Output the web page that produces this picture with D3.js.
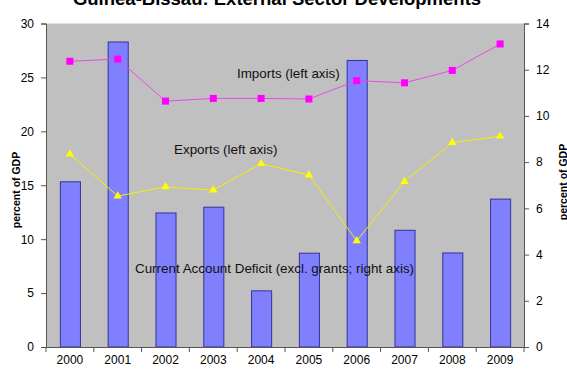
<!DOCTYPE html>
<html>
<head>
<meta charset="utf-8">
<script src="https://cdn.jsdelivr.net/npm/d3@7"></script>
<style>
  html, body { margin: 0; padding: 0; background: #fff; }
  svg { display: block; font-family: Arial, "Liberation Sans", sans-serif; }
</style>
</head>
<body>
<svg id="chart" width="567" height="370"></svg>
<script>
// Guinea-Bissau external sector, percent of GDP
const years = ["2000","2001","2002","2003","2004","2005","2006","2007","2008","2009"];
const deficit = [7.15, 13.2, 5.8, 6.05, 2.43, 4.06, 12.4, 5.05, 4.07, 6.4];   // right axis
const imports = [26.5, 26.7, 22.8, 23.05, 23.05, 23.0, 24.7, 24.5, 25.65, 28.1]; // left axis
const exports = [17.9, 14.0, 14.85, 14.55, 17.0, 15.95, 9.85, 15.35, 18.95, 19.55]; // left axis
const leftTicks = [0, 5, 10, 15, 20, 25, 30];
const rightTicks = [0, 2, 4, 6, 8, 10, 12, 14];

const svg = d3.select("#chart");
const m = { left: 46, right: 524, top: 23.5, bottom: 347 };

const x = d3.scaleBand().domain(years).range([m.left, m.right])
  .paddingInner(0.58).paddingOuter(0.29);
const yL = d3.scaleLinear().domain([0, 30]).range([m.bottom, m.top]);
const yR = d3.scaleLinear().domain([0, 14]).range([m.bottom, m.top]);
const cx = d => x(d) + x.bandwidth() / 2;

// plot background
svg.append("rect")
  .attr("x", m.left).attr("y", m.top)
  .attr("width", m.right - m.left).attr("height", m.bottom - m.top)
  .attr("fill", "#c0c0c0");

// title (sits above the top edge)
svg.append("text")
  .attr("x", 277).attr("y", 5)
  .attr("text-anchor", "middle")
  .attr("font-size", 18.5).attr("font-weight", "bold")
  .text("Guinea-Bissau: External Sector Developments");

// current account deficit bars
svg.append("g").selectAll("rect").data(years).join("rect")
  .attr("x", d => x(d) + 0.5)
  .attr("y", (d, i) => yR(deficit[i]))
  .attr("width", x.bandwidth())
  .attr("height", (d, i) => m.bottom - yR(deficit[i]))
  .attr("fill", "#8080ff")
  .attr("stroke", "#333399").attr("stroke-width", 1);

// imports line + square markers
const line = vals => d3.line().x((d, i) => cx(years[i])).y(d => yL(d))(vals);
svg.append("path").attr("d", line(imports))
  .attr("fill", "none").attr("stroke", "#e64ce6").attr("stroke-width", 1);
svg.append("g").selectAll("rect").data(imports).join("rect")
  .attr("x", (d, i) => cx(years[i]) - 3.5)
  .attr("y", d => yL(d) - 3.5)
  .attr("width", 7).attr("height", 7)
  .attr("fill", "#ff00ff");

// exports line + triangle markers
svg.append("path").attr("d", line(exports))
  .attr("fill", "none").attr("stroke", "#f5f000").attr("stroke-width", 1);
svg.append("g").selectAll("path").data(exports).join("path")
  .attr("d", d3.symbol(d3.symbolTriangle, 30))
  .attr("transform", (d, i) => `translate(${cx(years[i])},${yL(d)})`)
  .attr("fill", "#ffff00");

// left axis
const axL = svg.append("g").attr("transform", `translate(${m.left},0)`)
  .call(d3.axisLeft(yL).tickValues(leftTicks).tickSize(5).tickPadding(7));
// right axis
const axR = svg.append("g").attr("transform", `translate(${m.right},0)`)
  .call(d3.axisRight(yR).tickValues(rightTicks).tickSize(5).tickPadding(7));
// bottom axis with ticks between categories
const axB = svg.append("g").attr("transform", `translate(0,${m.bottom})`)
  .call(d3.axisBottom(x).tickSize(0).tickPadding(8));
axB.selectAll(".tickmark").data(d3.range(years.length + 1)).join("line")
  .attr("class", "tickmark")
  .attr("x1", i => m.left + i * x.step()).attr("x2", i => m.left + i * x.step())
  .attr("y1", 0).attr("y2", 5)
  .attr("stroke", "#555");

[axL, axR, axB].forEach(a => {
  a.select(".domain").attr("stroke", "#555");
  a.selectAll(".tick line").attr("stroke", "#555");
  a.selectAll("text").attr("font-size", 12).attr("fill", "#000")
    .attr("font-family", "Arial, 'Liberation Sans', sans-serif");
});

// axis titles
svg.append("text")
  .attr("transform", "translate(20,190) rotate(-90)")
  .attr("text-anchor", "middle").attr("font-size", 10.5).attr("font-weight", "bold")
  .text("percent of GDP");
svg.append("text")
  .attr("transform", "translate(567,182) rotate(-90)")
  .attr("text-anchor", "middle").attr("font-size", 10.5).attr("font-weight", "bold")
  .text("percent of GDP");

// series labels
const labels = [
  { t: "Imports (left axis)", x: 237, y: 78 },
  { t: "Exports (left axis)", x: 174, y: 154 },
  { t: "Current Account Deficit (excl. grants; right axis)", x: 135, y: 273 }
];
svg.append("g").selectAll("text").data(labels).join("text")
  .attr("x", d => d.x).attr("y", d => d.y)
  .attr("font-size", 13.4).attr("fill", "#111")
  .text(d => d.t);
</script>
</body>
</html>
